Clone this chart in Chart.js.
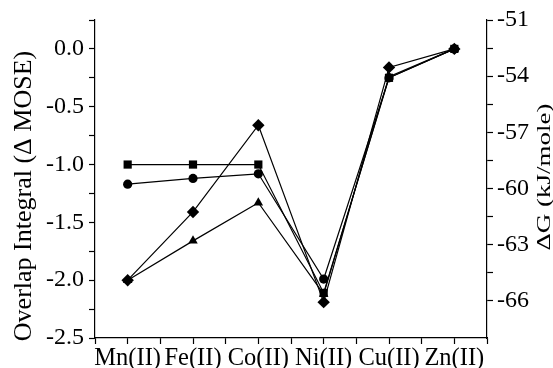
<!DOCTYPE html>
<html>
<head>
<meta charset="utf-8">
<script src="https://cdn.jsdelivr.net/npm/chart.js@4.4.1/dist/chart.umd.min.js"></script>
<style>
  html, body { margin: 0; padding: 0; background: #fff; }
  canvas { display: block; }
</style>
</head>
<body>
<canvas id="chart" width="553" height="368"></canvas>
<script>
// Datos
const metals = ['Mn(II)', 'Fe(II)', 'Co(II)', 'Ni(II)', 'Cu(II)', 'Zn(II)'];
const squareVals = [-1.0, -1.0, -1.0, -2.11, -0.25, 0.0];
const circleVals = [-1.17, -1.12, -1.08, -1.99, -0.25, 0.0];
const triangleVals = [-2.0, -1.66, -1.33, -2.12, -0.24, 0.0];
const diamondVals = [-2.0, -1.41, -0.66, -2.19, -0.16, 0.0];

const leftTitle = 'Overlap Integral (\u0394 MOSE)';
const rightTitle = '\u0394G (kJ/mole)';

const FONT = 'Liberation Serif';

// Convertir cada serie a puntos {x, y} con x = posición del metal
function toPoints(vals) {
    return vals.map((v, i) => ({ x: i + 1, y: v }));
}

function series(vals, style, radius) {
    return {
        data: toPoints(vals),
        borderColor: '#000',
        backgroundColor: '#000',
        borderWidth: 1.2,
        pointStyle: style,
        pointRadius: radius,
        pointBorderWidth: 0,
        tension: 0,
        yAxisID: 'y'
    };
}

// Títulos de los ejes dibujados a mano (el derecho se lee de abajo hacia arriba)
const axisTitles = {
    id: 'axisTitles',
    afterDraw(chart) {
        const ctx = chart.ctx;
        ctx.save();
        ctx.fillStyle = '#000';
        ctx.textAlign = 'center';
        ctx.textBaseline = 'middle';

        ctx.save();
        ctx.font = '26px "' + FONT + '"';
        ctx.translate(24, 196);
        ctx.rotate(-Math.PI / 2);
        ctx.fillText(leftTitle, 0, 0);
        ctx.restore();

        // el título derecho es más estrecho en el original
        ctx.save();
        ctx.font = '27px "' + FONT + '"';
        ctx.translate(545, 177);
        ctx.rotate(-Math.PI / 2);
        ctx.scale(1, 0.72);
        ctx.fillText(rightTitle, 0, 0);
        ctx.restore();

        ctx.restore();
    }
};

function gridOpts(tickColor) {
    return {
        display: true,
        drawOnChartArea: false,
        drawTicks: true,
        tickLength: 6,
        tickWidth: 1.2,
        tickColor: tickColor || '#000'
    };
}

new Chart(document.getElementById('chart'), {
    type: 'line',
    data: {
        datasets: [
            series(squareVals, 'rect', 5.8),
            series(circleVals, 'circle', 4.6),
            series(triangleVals, 'triangle', 5.5),
            series(diamondVals, 'rectRot', 6.2)
        ]
    },
    options: {
        responsive: false,
        animation: false,
        layout: { padding: { top: 20, left: 0, right: 0, bottom: 0 } },
        plugins: {
            legend: { display: false },
            tooltip: { enabled: false }
        },
        scales: {
            x: {
                type: 'linear',
                position: 'bottom',
                min: 0.5,
                max: 6.5,
                grid: gridOpts(),
                border: { display: true, color: '#000', width: 1.2 },
                ticks: {
                    stepSize: 0.5,
                    autoSkip: false,
                    maxRotation: 0,
                    padding: 0,
                    color: '#000',
                    font: { family: FONT, size: 24.5 },
                    callback: (v) => Number.isInteger(v) ? metals[v - 1] : ''
                },
                afterFit(scale) {
                    scale.height = 30;
                    scale.paddingLeft = 0;
                    scale.paddingRight = 0;
                }
            },
            y: {
                type: 'linear',
                position: 'left',
                min: -2.5,
                max: 0.25,
                grid: gridOpts(),
                border: { display: true, color: '#000', width: 1.2 },
                ticks: {
                    stepSize: 0.25,
                    autoSkip: false,
                    padding: 5,
                    color: '#000',
                    font: { family: FONT, size: 24 },
                    callback: (v) => Math.abs(v * 2 - Math.round(v * 2)) < 1e-6 ? v.toFixed(1) : ''
                },
                afterFit(scale) {
                    scale.width = 95;
                    scale.paddingTop = 0;
                    scale.paddingBottom = 0;
                }
            },
            y2: {
                type: 'linear',
                position: 'right',
                min: -68,
                max: -51,
                grid: gridOpts((c) => {
                    const v = c.tick ? c.tick.value : 0;
                    return Math.abs(v / 1.5 - Math.round(v / 1.5)) < 1e-6 ? '#000' : 'rgba(0,0,0,0)';
                }),
                border: { display: true, color: '#000', width: 1.2 },
                ticks: {
                    stepSize: 1.5,
                    autoSkip: false,
                    padding: 4,
                    color: '#000',
                    font: { family: FONT, size: 24 },
                    callback: (v) => Math.abs(v / 3 - Math.round(v / 3)) < 1e-6 ? String(v) : ''
                },
                afterFit(scale) {
                    scale.width = 66;
                    scale.paddingTop = 0;
                    scale.paddingBottom = 0;
                }
            }
        }
    },
    plugins: [axisTitles]
});
</script>
</body>
</html>
